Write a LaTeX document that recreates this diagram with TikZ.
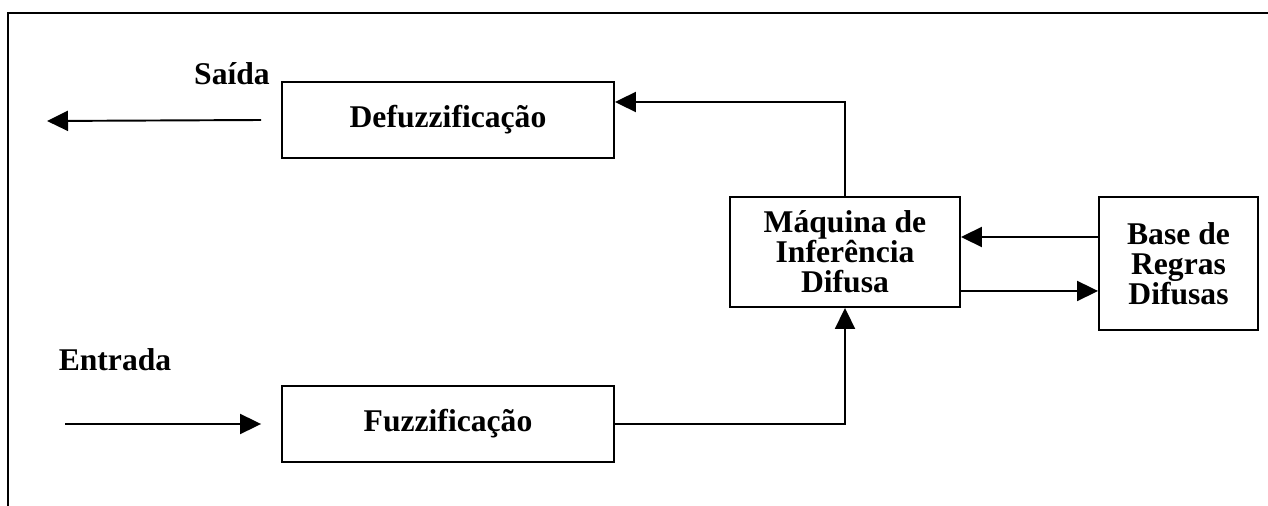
\documentclass[tikz,border=0pt]{standalone}
\usepackage{fontspec}
\setmainfont{Liberation Serif}
\usepackage{tikz}
\usetikzlibrary{arrows.meta,positioning}

\begin{document}
\begin{tikzpicture}[
    x=0.02cm, y=-0.02cm,
    every node/.style={font=\fontsize{18}{17}\selectfont\bfseries},
    block/.style={
        rectangle,
        draw=black,
        line width=1.1pt,
        fill=white,
        align=center,
        inner sep=2pt
    },
    arrow/.style={
        -{Triangle[length=0.42cm,width=0.4cm]},
        line width=1.1pt
    }
]

\useasboundingbox (0,0) rectangle (1268,506);
\draw[line width=1.1pt] (8,506) -- (8,13) -- (1268,13);

\node[block, minimum width=6.64cm, minimum height=1.52cm] (defuzz) at (448,120) {Defuzzificação};
\node[block, minimum width=6.64cm, minimum height=1.52cm] (fuzz) at (448,424) {Fuzzificação};
\node[block, minimum width=4.6cm, minimum height=2.2cm] (maq) at (845,252) {Máquina de\\Inferência\\Difusa};
\node[block, minimum width=3.18cm, minimum height=2.66cm] (base) at (1178.5,263.5) {Base de\\Regras\\Difusas};

\node (saidatxt) at (232,74) {Saída};
\node (entradatxt) at (115,360) {Entrada};

\coordinate (saida) at (47,121);
\coordinate (entrada) at (65,424);
\coordinate (mtop) at ([yshift=0.3cm]maq.east);
\coordinate (mbot) at ([yshift=-0.78cm]maq.east);

\draw[arrow] ([xshift=-0.4cm]defuzz.west) -- (saida);
\draw[arrow] (entrada) -- ([xshift=-0.4cm]fuzz.west);
\draw[arrow] (fuzz.east) -| (maq.south);
\draw[arrow] (maq.north) |- ([yshift=0.36cm]defuzz.east);
\draw[arrow] (base.west |- mtop) -- (mtop);
\draw[arrow] (mbot) -- (base.west |- mbot);

\end{tikzpicture}
\end{document}
